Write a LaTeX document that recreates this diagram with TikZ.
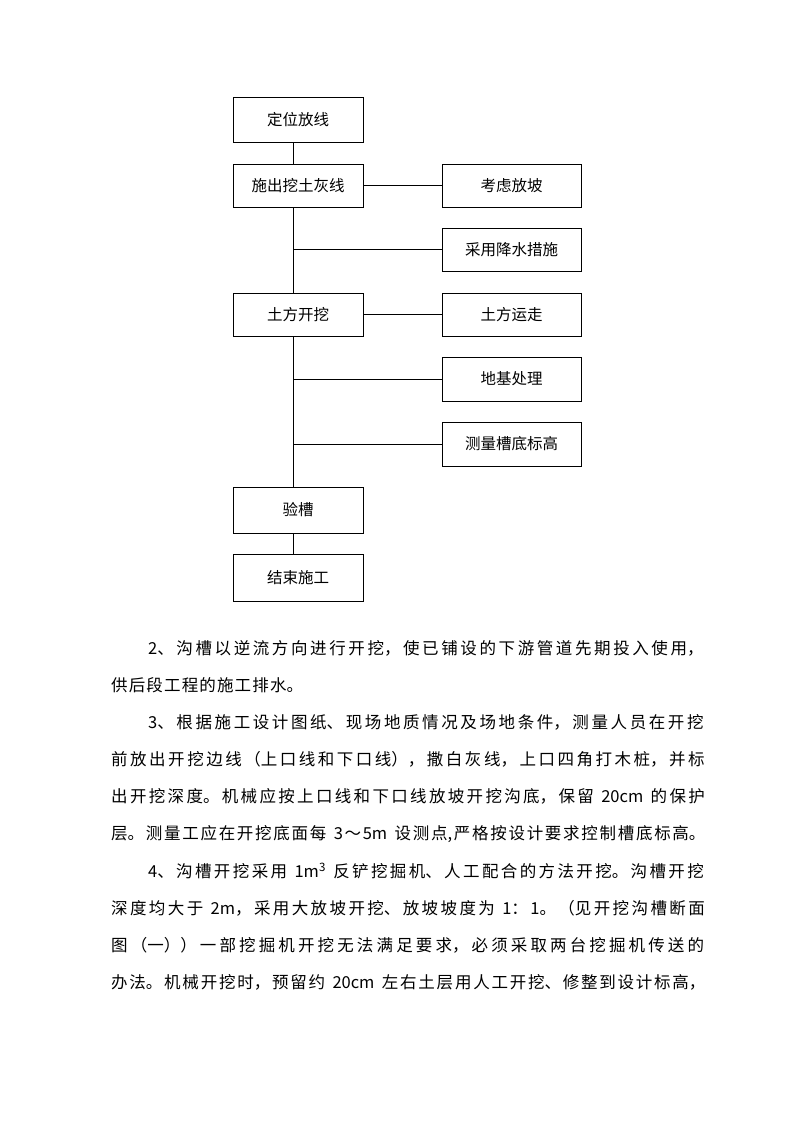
\documentclass[tikz,border=0pt]{standalone}
\usepackage{fontspec}
\setmainfont{Noto Sans CJK SC}
\XeTeXlinebreaklocale "zh"
\XeTeXlinebreakskip=0pt plus 1fil
\newcommand{\gapsp}{\hspace{0.45em}}
\begin{document}
\begin{tikzpicture}[x=1pt,y=-1pt,
  stepbox/.style={draw, line width=0.9pt, inner sep=0pt, minimum width=130pt, minimum height=44pt, font=\fontsize{15.5}{18}\selectfont},
  sidebox/.style={stepbox, minimum width=139pt},
  conn/.style={line width=0.9pt},
  bodyline/.style={anchor=west, inner sep=0pt, align=justify, font=\fontsize{16.5}{20}\selectfont},
  fullline/.style={bodyline, text width=596pt},
  indline/.style={bodyline, text width=558pt}]
\useasboundingbox (0,0) rectangle (794,1123);
% flowchart boxes
\node[stepbox, minimum height=45pt] (A) at (298,119.5) {定位放线};
\node[stepbox, minimum height=43pt] (B) at (298,185.5) {施出挖土灰线};
\node[sidebox, minimum height=43pt] (C) at (511.5,185.5) {考虑放坡};
\node[sidebox, minimum height=43pt] (D) at (511.5,249.5) {采用降水措施};
\node[stepbox, minimum height=43pt] (E) at (298,314.5) {土方开挖};
\node[sidebox, minimum height=43pt] (F) at (511.5,314.5) {土方运走};
\node[sidebox, minimum height=44pt] (G) at (511.5,379) {地基处理};
\node[sidebox, minimum height=44pt] (H) at (511.5,444) {测量槽底标高};
\node[stepbox, minimum height=46pt] (I) at (298,510) {验槽};
\node[stepbox, minimum height=47pt] (J) at (298,577.5) {结束施工};
\coordinate (tx) at (293,0);
% connectors
\draw[conn] (A.south -| tx) -- (B.north -| tx);
\draw[conn] (B.south -| tx) -- (E.north -| tx);
\draw[conn] (E.south -| tx) -- (I.north -| tx);
\draw[conn] (I.south -| tx) -- (J.north -| tx);
\draw[conn] (B.east) -- (C.west);
\draw[conn] (E.east) -- (F.west);
\draw[conn] (D.west -| tx) -- (D.west);
\draw[conn] (G.west -| tx) -- (G.west);
\draw[conn] (H.west -| tx) -- (H.west);
% body text
\node[indline] (t1) at (148,648) {\parfillskip=0pt 2、沟槽以逆流方向进行开挖，使已铺设的下游管道先期投入使用，};
\node[bodyline, text width=193pt] (t2) at (111,685.2) {\parfillskip=0pt 供后段工程的施工排水。};
\node[indline] (t3) at (148,722.4) {\parfillskip=0pt 3、根据施工设计图纸、现场地质情况及场地条件，测量人员在开挖};
\node[fullline] (t4) at (111,759.6) {\parfillskip=0pt 前放出开挖边线（上口线和下口线），撒白灰线，上口四角打木桩，并标};
\node[fullline] (t5) at (111,796.8) {\parfillskip=0pt 出开挖深度。机械应按上口线和下口线放坡开挖沟底，保留\gapsp 20cm\gapsp 的保护};
\node[fullline] (t6) at (111,834) {\parfillskip=0pt 层。测量工应在开挖底面每\gapsp 3～5m\gapsp 设测点,严格按设计要求控制槽底标高。};
\node[indline] (t7) at (148,871.2) {\parfillskip=0pt 4、沟槽开挖采用\gapsp 1m\textsuperscript{3}\gapsp 反铲挖掘机、人工配合的方法开挖。沟槽开挖};
\node[fullline] (t8) at (111,908.4) {\parfillskip=0pt 深度均大于\gapsp 2m，采用大放坡开挖、放坡坡度为\gapsp 1：1。（见开挖沟槽断面};
\node[fullline] (t9) at (111,945.6) {\parfillskip=0pt 图（一））一部挖掘机开挖无法满足要求，必须采取两台挖掘机传送的};
\node[fullline] (t10) at (111,982.8) {\parfillskip=0pt 办法。机械开挖时，预留约\gapsp 20cm\gapsp 左右土层用人工开挖、修整到设计标高，};
\end{tikzpicture}
\end{document}
